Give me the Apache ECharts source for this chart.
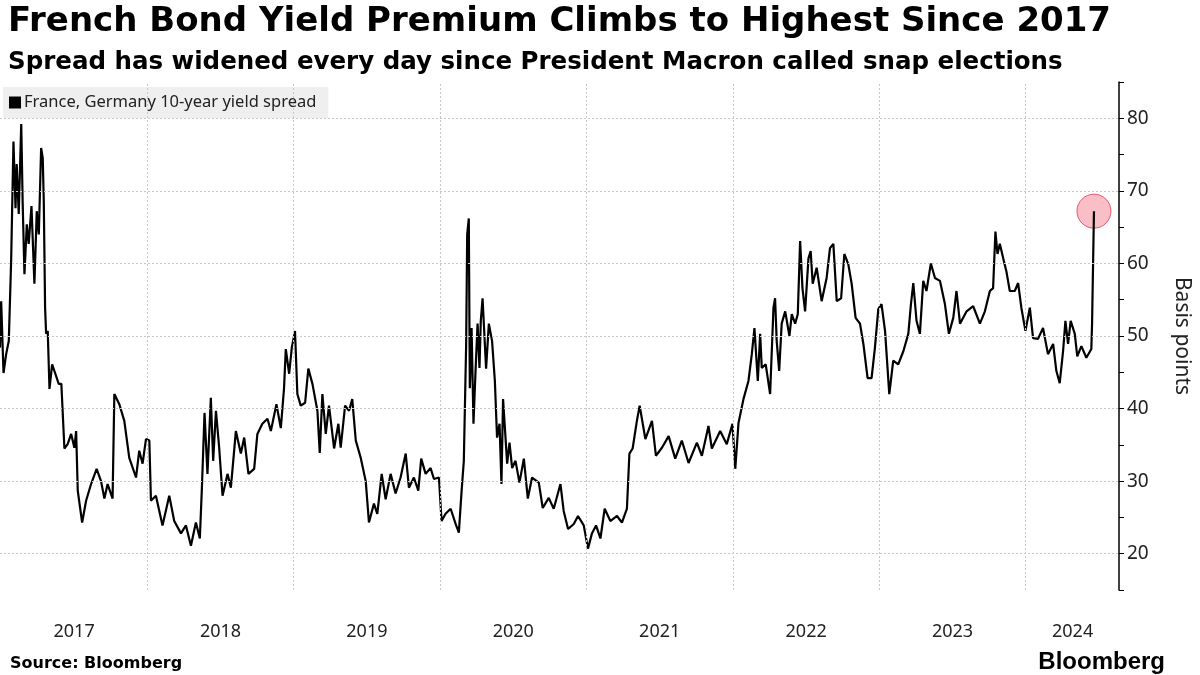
<!DOCTYPE html>
<html>
<head>
<meta charset="utf-8">
<script src="https://cdn.jsdelivr.net/npm/echarts@6/dist/echarts.min.js"></script>
<style>
  html, body { margin: 0; padding: 0; background: #fff; }
  #chart { width: 1200px; height: 675px; }
</style>
</head>
<body>
<div id="chart"></div>
<script>
// decimal year of each reading
const years = [
  2016.994, 2017.002, 2017.018, 2017.036, 2017.054, 2017.070, 2017.086, 2017.100, 2017.108, 2017.122,
  2017.139, 2017.149, 2017.161, 2017.177, 2017.190, 2017.209, 2017.229, 2017.245, 2017.259, 2017.275,
  2017.286, 2017.293, 2017.302, 2017.309, 2017.320, 2017.332, 2017.350, 2017.372, 2017.395, 2017.413,
  2017.434, 2017.456, 2017.480, 2017.502, 2017.514, 2017.525, 2017.555, 2017.582, 2017.616, 2017.654,
  2017.684, 2017.707, 2017.729, 2017.763, 2017.775, 2017.809, 2017.843, 2017.877, 2017.923, 2017.945,
  2017.968, 2017.991, 2018.014, 2018.025, 2018.059, 2018.104, 2018.150, 2018.184, 2018.230, 2018.264,
  2018.298, 2018.332, 2018.359, 2018.373, 2018.391, 2018.411, 2018.434, 2018.450, 2018.469, 2018.491,
  2018.514, 2018.548, 2018.571, 2018.605, 2018.639, 2018.662, 2018.691, 2018.730, 2018.752, 2018.786,
  2018.821, 2018.844, 2018.882, 2018.912, 2018.934, 2018.946, 2018.969, 2018.987, 2019.009, 2019.025,
  2019.048, 2019.078, 2019.100, 2019.128, 2019.162, 2019.178, 2019.196, 2019.219, 2019.241, 2019.276,
  2019.305, 2019.321, 2019.351, 2019.378, 2019.400, 2019.424, 2019.458, 2019.492, 2019.514, 2019.548,
  2019.571, 2019.601, 2019.628, 2019.662, 2019.696, 2019.730, 2019.765, 2019.787, 2019.821, 2019.851,
  2019.871, 2019.901, 2019.935, 2019.958, 2019.992, 2020.010, 2020.037, 2020.072, 2020.106, 2020.128,
  2020.147, 2020.162, 2020.178, 2020.185, 2020.196, 2020.203, 2020.215, 2020.228, 2020.242, 2020.256,
  2020.269, 2020.278, 2020.290, 2020.314, 2020.333, 2020.355, 2020.374, 2020.389, 2020.406, 2020.419,
  2020.430, 2020.458, 2020.474, 2020.492, 2020.515, 2020.542, 2020.572, 2020.599, 2020.628, 2020.674,
  2020.701, 2020.742, 2020.776, 2020.822, 2020.844, 2020.874, 2020.913, 2020.942, 2020.981, 2021.010,
  2021.037, 2021.065, 2021.095, 2021.124, 2021.163, 2021.208, 2021.242, 2021.276, 2021.293, 2021.315,
  2021.344, 2021.363, 2021.402, 2021.447, 2021.474, 2021.515, 2021.561, 2021.606, 2021.651, 2021.697,
  2021.754, 2021.788, 2021.833, 2021.856, 2021.913, 2021.958, 2021.997, 2022.016, 2022.038, 2022.072,
  2022.106, 2022.129, 2022.147, 2022.170, 2022.186, 2022.197, 2022.224, 2022.254, 2022.277, 2022.288,
  2022.299, 2022.316, 2022.333, 2022.357, 2022.386, 2022.402, 2022.425, 2022.443, 2022.459, 2022.475,
  2022.493, 2022.516, 2022.531, 2022.545, 2022.572, 2022.606, 2022.640, 2022.663, 2022.686, 2022.709,
  2022.739, 2022.761, 2022.788, 2022.811, 2022.838, 2022.868, 2022.891, 2022.920, 2022.947, 2022.970,
  2022.993, 2023.015, 2023.039, 2023.068, 2023.095, 2023.129, 2023.164, 2023.198, 2023.216, 2023.232,
  2023.254, 2023.277, 2023.300, 2023.322, 2023.352, 2023.380, 2023.414, 2023.448, 2023.475, 2023.505,
  2023.527, 2023.551, 2023.596, 2023.641, 2023.687, 2023.721, 2023.755, 2023.777, 2023.793, 2023.807,
  2023.823, 2023.846, 2023.868, 2023.891, 2023.925, 2023.948, 2023.970, 2023.998, 2024.028, 2024.050,
  2024.084, 2024.118, 2024.152, 2024.187, 2024.209, 2024.232, 2024.255, 2024.271, 2024.289, 2024.307,
  2024.335, 2024.352, 2024.380, 2024.414, 2024.448, 2024.453, 2024.466
];

// France-Germany 10y spread, basis points
const spread = [
  48.4, 54.8, 44.9, 47.5, 49.3, 60.3, 76.8, 67.6, 73.7, 66.8,
  79.2, 68.2, 58.5, 65.4, 62.7, 67.9, 57.2, 67.2, 64.0, 75.9,
  74.5, 68.6, 53.9, 50.3, 50.7, 42.7, 46.1, 44.8, 43.4, 43.4,
  34.5, 35.1, 36.5, 34.6, 36.9, 28.7, 24.3, 27.3, 29.6, 31.7,
  30.0, 27.6, 29.6, 27.6, 42.0, 40.6, 38.3, 33.2, 30.5, 34.2,
  32.4, 35.8, 35.6, 27.3, 28.0, 23.9, 28.0, 24.5, 22.8, 23.9,
  21.1, 24.3, 22.1, 29.1, 39.4, 31.0, 41.5, 32.8, 39.7, 34.6,
  28.0, 31.0, 29.1, 36.9, 33.8, 36.0, 31.0, 31.7, 36.5, 37.9,
  38.6, 36.9, 40.6, 37.3, 42.8, 48.2, 44.8, 48.4, 50.7, 42.0,
  40.4, 40.8, 45.5, 43.4, 39.7, 33.9, 42.0, 36.5, 40.4, 34.5,
  37.9, 34.6, 40.4, 39.7, 41.3, 35.6, 33.2, 30.0, 24.3, 26.9,
  25.5, 31.0, 27.5, 31.0, 28.3, 30.5, 33.8, 29.1, 30.5, 28.7,
  33.1, 31.0, 31.8, 30.3, 30.5, 24.5, 25.5, 26.2, 24.1, 22.9,
  28.7, 32.8, 48.9, 64.0, 66.2, 42.8, 51.1, 37.9, 45.2, 51.7,
  45.6, 52.1, 55.2, 45.5, 51.7, 49.3, 43.8, 36.0, 37.9, 29.6,
  41.3, 32.4, 35.3, 31.8, 32.8, 29.8, 33.1, 27.6, 30.5, 29.8,
  26.3, 27.7, 26.2, 29.6, 25.9, 23.4, 24.1, 25.2, 23.9, 20.7,
  22.8, 23.9, 22.1, 26.2, 24.5, 25.2, 24.3, 26.2, 33.8, 34.5,
  38.3, 40.4, 35.8, 38.3, 33.5, 34.6, 36.2, 33.1, 35.6, 32.5,
  35.3, 33.5, 37.6, 34.5, 36.9, 35.1, 37.9, 31.7, 38.0, 41.3,
  43.8, 47.5, 51.1, 43.8, 50.3, 45.6, 46.1, 42.0, 53.9, 55.2,
  49.3, 45.2, 51.7, 53.4, 50.0, 53.0, 51.7, 53.0, 63.1, 56.6,
  53.4, 60.7, 61.7, 57.2, 59.4, 54.8, 58.0, 62.1, 62.7, 54.8,
  55.2, 61.3, 59.9, 57.2, 52.5, 51.7, 48.9, 44.2, 44.2, 48.4,
  53.7, 54.4, 50.7, 42.0, 46.6, 46.1, 47.9, 50.3, 54.4, 57.3,
  52.1, 50.3, 57.6, 56.2, 60.0, 58.0, 57.6, 54.4, 50.3, 52.5,
  56.2, 51.7, 53.4, 54.1, 51.7, 53.4, 56.2, 56.6, 64.4, 61.3,
  62.7, 60.7, 58.9, 56.2, 56.2, 57.3, 53.9, 50.7, 53.9, 49.7,
  49.6, 51.1, 47.5, 48.9, 45.2, 43.5, 47.9, 52.1, 48.9, 52.1,
  50.3, 47.2, 48.6, 47.0, 48.2, 51.7, 67.2
];

const yearLines = [2018, 2019, 2020, 2021, 2022, 2023, 2024];
const yearLabelPos = [2017.5, 2018.5, 2019.5, 2020.5, 2021.5, 2022.5, 2023.5, 2024.32];
const yTickLines = [20, 30, 40, 50, 60, 70, 80];

const chart = echarts.init(document.getElementById("chart"));
const lineData = years.map((y, i) => [y, spread[i]]);
const last = lineData[lineData.length - 1];
const gridStyle = { color: "#c8c8c8", type: [2, 2], width: 1 };

chart.setOption({
    animation: false,
    textStyle: { fontFamily: "Noto Sans" },
    title: [
        { text: "French Bond Yield Premium Climbs to Highest Since 2017", left: 3, top: 0,
          textStyle: { fontFamily: "DejaVu Sans", fontWeight: "bold", fontSize: 34, color: "#000" } },
        { text: "Spread has widened every day since President Macron called snap elections", left: 3, top: 45,
          textStyle: { fontFamily: "DejaVu Sans", fontWeight: "bold", fontSize: 24.5, color: "#000" } },
        { text: "Source: Bloomberg", left: 5, top: 651,
          textStyle: { fontFamily: "DejaVu Sans", fontWeight: "bold", fontSize: 16, color: "#000" } },
        { text: "Bloomberg", right: 30, top: 645,
          textStyle: { fontFamily: "Liberation Sans", fontWeight: "bold", fontSize: 24, color: "#000" } }
    ],
    legend: {
        data: ["France, Germany 10-year yield spread"],
        left: 3, top: 87,
        icon: "rect", itemWidth: 12, itemHeight: 12, itemGap: 4,
        backgroundColor: "#efefef", padding: [7, 12, 7, 6],
        textStyle: { fontSize: 16.5, color: "#222", padding: [0, 0, 0, -2] }
    },
    grid: { left: 0, right: 79, top: 82, bottom: 85 },
    xAxis: {
        type: "value", min: 2016.994, max: 2024.637,
        axisLine: { show: false }, axisTick: { show: false }, splitLine: { show: false },
        axisLabel: { customValues: yearLabelPos, formatter: v => String(Math.floor(v)),
                     fontSize: 18, color: "#222", margin: 33 }
    },
    yAxis: {
        type: "value", position: "right", min: 15, max: 85, interval: 5,
        name: "Basis points", nameLocation: "middle", nameGap: 52, nameRotate: -90,
        nameTextStyle: { fontSize: 21, color: "#222" },
        axisLine: { show: true, lineStyle: { color: "#000", width: 1.5 } },
        axisTick: { show: true, length: 5, lineStyle: { color: "#000" } },
        splitLine: { show: false },
        axisLabel: { fontSize: 19, color: "#222", margin: 8,
                     formatter: v => (v % 10 === 0 && v >= 20 && v <= 80 ? String(v) : "") }
    },
    series: [
        {
            name: "France, Germany 10-year yield spread",
            type: "line", data: lineData, showSymbol: false, symbol: "none",
            lineStyle: { color: "#000", width: 2.2 }, itemStyle: { color: "#000" },
            markLine: {
                silent: true, symbol: "none", label: { show: false }, lineStyle: gridStyle,
                data: yearLines.map(y => ({ xAxis: y })).concat(yTickLines.map(v => ({ yAxis: v })))
            },
            z: 3
        },
        {
            name: "latest", type: "scatter", data: [last], symbolSize: 34,
            itemStyle: { color: "rgba(242, 92, 115, 0.5)", borderColor: "#d83a55", borderWidth: 1 },
            z: 2
        }
    ]
});
</script>
</body>
</html>
